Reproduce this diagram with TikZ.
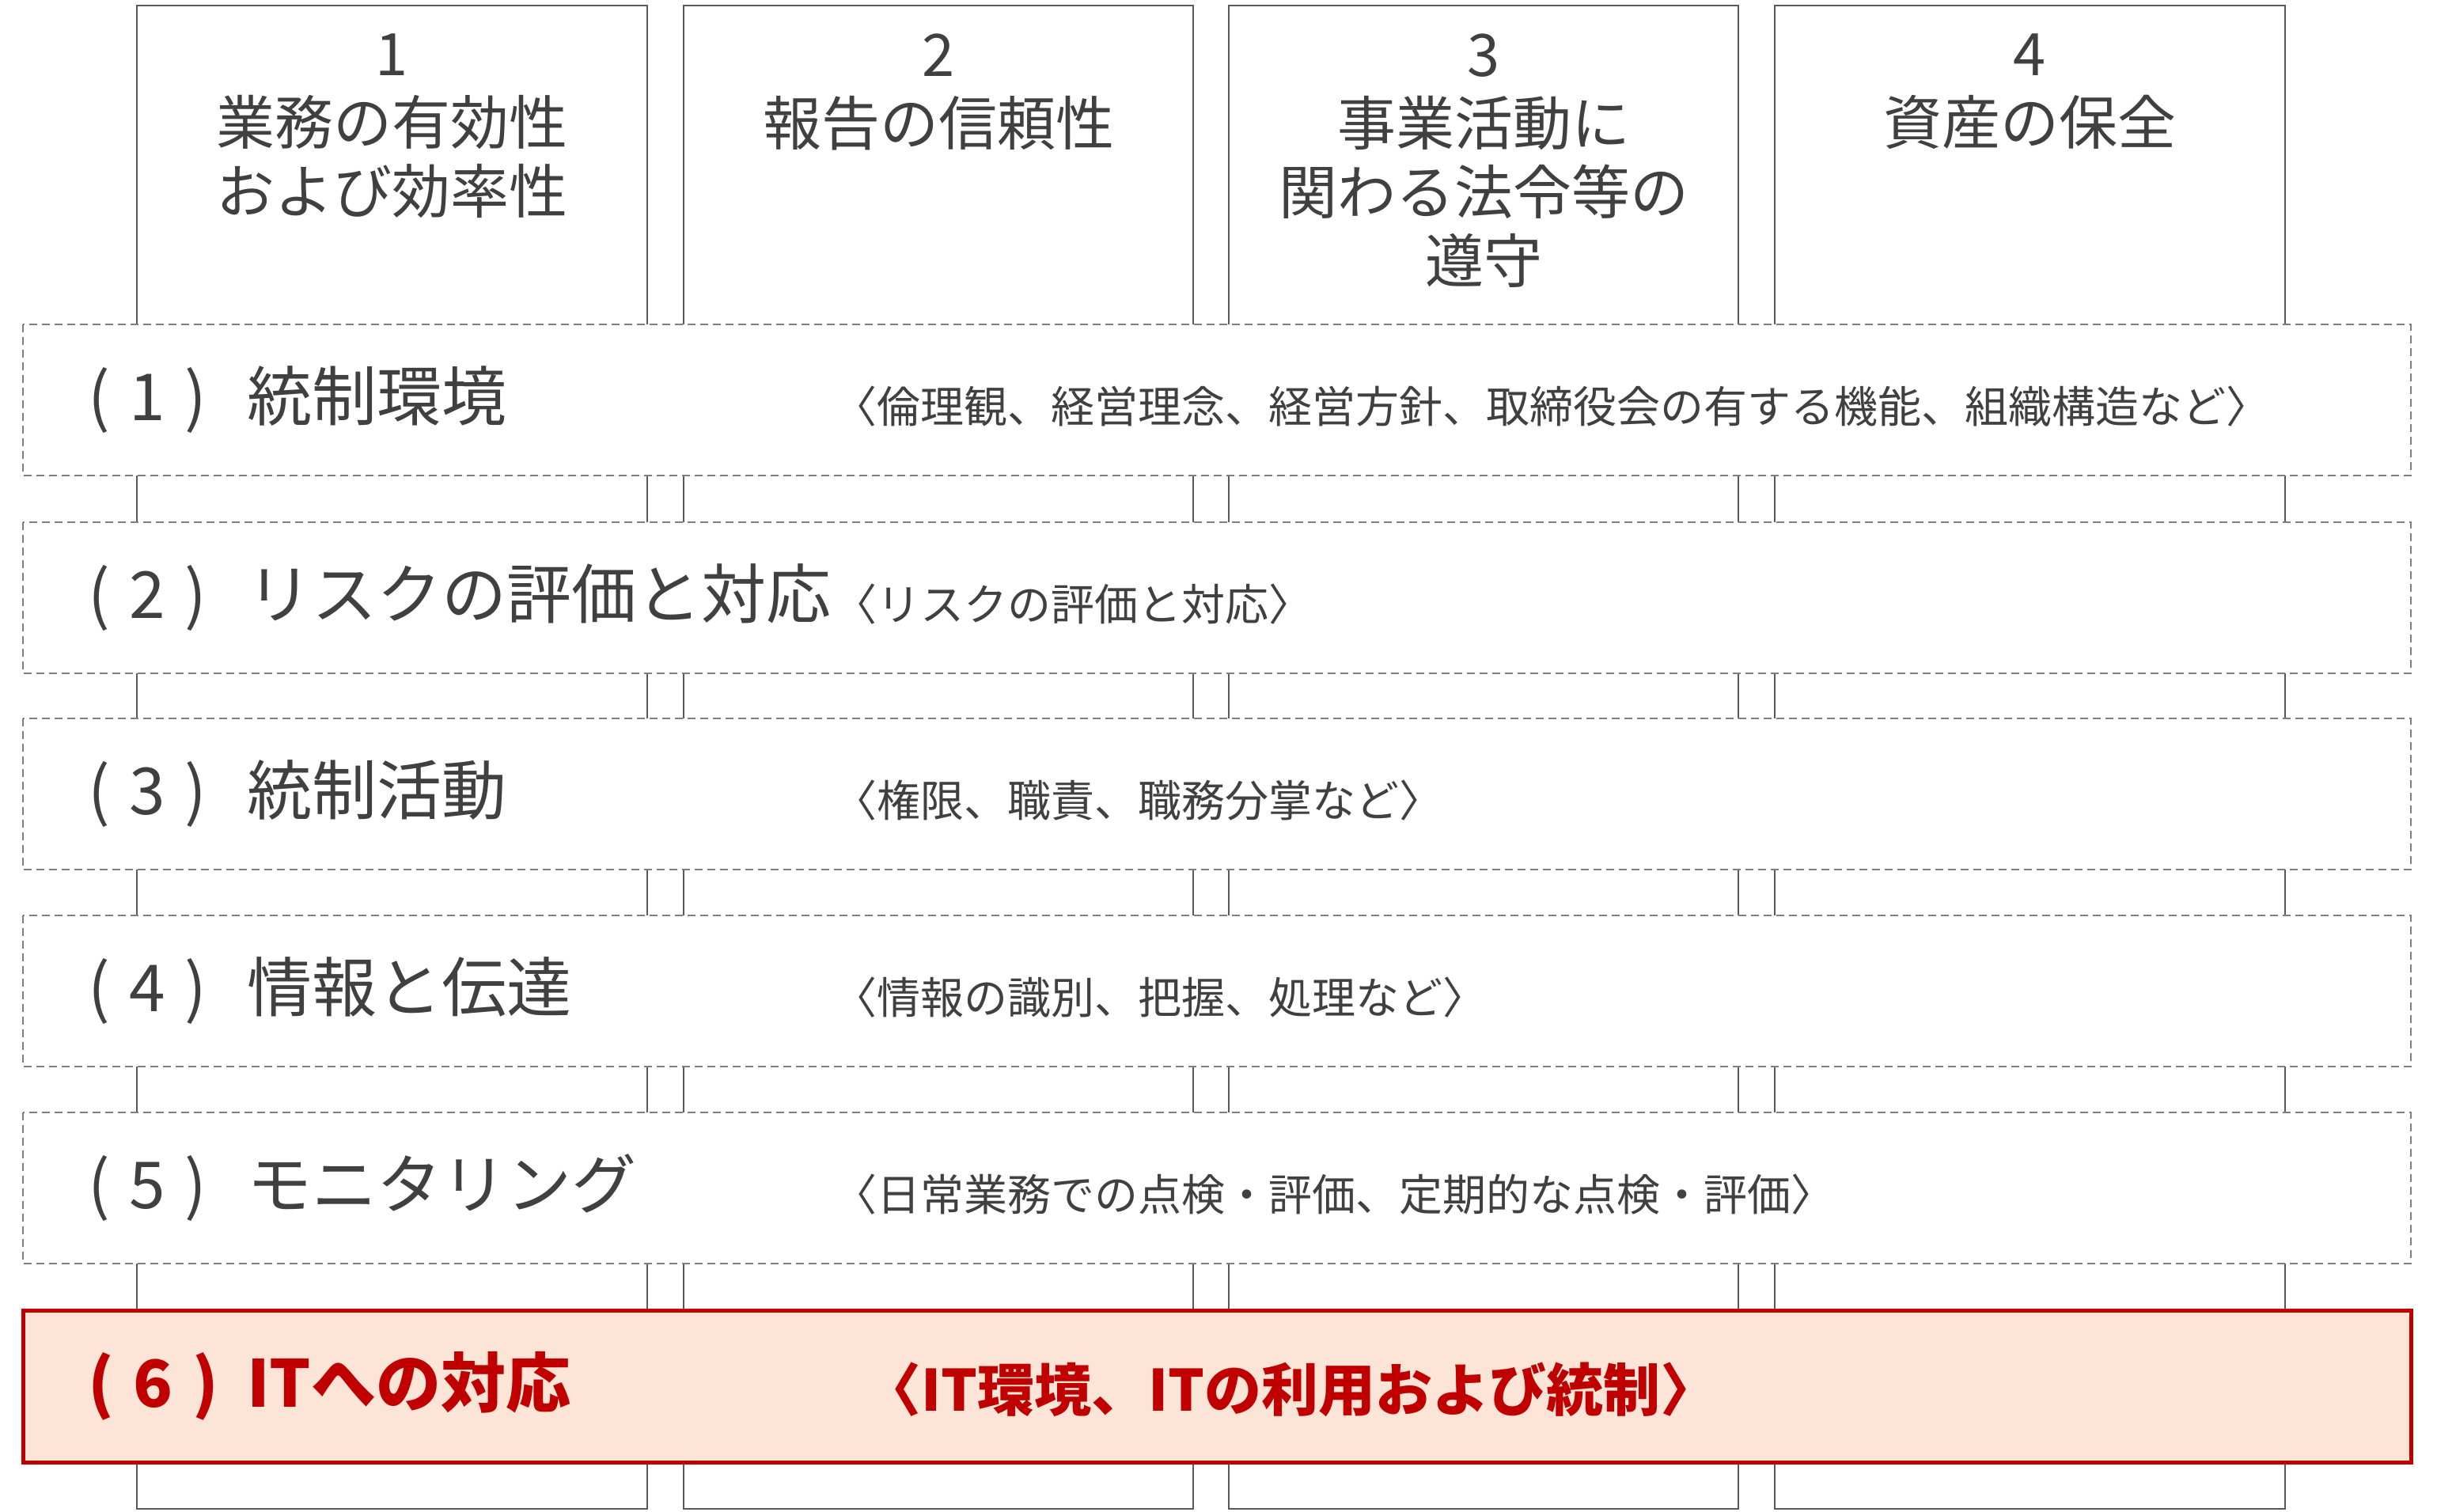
\documentclass[tikz,border=0pt]{standalone}
\usepackage{fontspec}
\setmainfont{Noto Sans CJK JP}
\usepackage{xcolor}
\definecolor{framegray}{HTML}{595959}
\definecolor{dashgray}{HTML}{7F7F7F}
\definecolor{textgray}{HTML}{404040}
\definecolor{itred}{HTML}{C00000}
\definecolor{itfill}{HTML}{FCE4D6}
\newcommand{\compno}[1]{\makebox[2.45em][l]{(\hspace{0.3em}#1\hspace{0.3em})}}

\begin{document}
\begin{tikzpicture}[x=1pt, y=-1pt,
	colbox/.style={draw=framegray, line width=0.8pt, fill=white},
	rowbox/.style={draw=dashgray, line width=0.6pt, dash pattern=on 5pt off 3pt, fill=white},
	itbox/.style={draw=itred, line width=2.5pt, fill=itfill},
	colhead/.style={anchor=north, align=center, inner sep=0pt, text=textgray, font=\fontsize{37}{43.5}\selectfont},
	rowtitle/.style={anchor=west, inner sep=0pt, text=textgray, font=\fontsize{41}{48}\selectfont},
	rowdesc/.style={anchor=west, inner sep=0pt, text=textgray, font=\fontsize{27.5}{32}\selectfont}]
	\useasboundingbox (0,0) rectangle (1540,955.5);
	% the four objectives
	\draw[colbox] (86.5,3.5) rectangle (409,953.5);
	\draw[colbox] (432,3.5) rectangle (754,953.5);
	\draw[colbox] (776.5,3.5) rectangle (1098.5,953.5);
	\draw[colbox] (1121.5,3.5) rectangle (1444,953.5);
	\node[colhead] (obj1) at (247.75,21) {1\\業務の有効性\\および効率性};
	\node[colhead] (obj2) at (593,21) {2\\報告の信頼性};
	\node[colhead] (obj3) at (937.5,21) {3\\事業活動に\\関わる法令等の\\遵守};
	\node[colhead] (obj4) at (1282.75,21) {4\\資産の保全};
	% the six components
	\draw[rowbox] (14.5,205) rectangle (1523.5,300.5);
	\node[rowtitle] (comp1) at (55.5,252.75) {\compno{1}統制環境};
	\node[rowdesc] (desc1) at (526.5,256.75) {〈倫理観、経営理念、経営方針、取締役会の有する機能、組織構造など〉};
	\draw[rowbox] (14.5,330) rectangle (1523.5,425.5);
	\node[rowtitle] (comp2) at (55.5,377.75) {\compno{2}リスクの評価と対応};
	\node[rowdesc] (desc2) at (526.5,381.75) {〈リスクの評価と対応〉};
	\draw[rowbox] (14.5,454) rectangle (1523.5,549.5);
	\node[rowtitle] (comp3) at (55.5,501.75) {\compno{3}統制活動};
	\node[rowdesc] (desc3) at (526.5,505.75) {〈権限、職責、職務分掌など〉};
	\draw[rowbox] (14.5,578.5) rectangle (1523.5,674);
	\node[rowtitle] (comp4) at (55.5,626.25) {\compno{4}情報と伝達};
	\node[rowdesc] (desc4) at (526.5,630.25) {〈情報の識別、把握、処理など〉};
	\draw[rowbox] (14.5,703) rectangle (1523.5,798.5);
	\node[rowtitle] (comp5) at (55.5,750.75) {\compno{5}モニタリング};
	\node[rowdesc] (desc5) at (526.5,754.75) {〈日常業務での点検・評価、定期的な点検・評価〉};
	\draw[itbox] (14.5,828) rectangle (1523.5,924);
	\node[rowtitle, text=itred, font=\fontsize{41}{48}\selectfont\bfseries] (comp6) at (55.5,876) {\compno{6}ITへの対応};
	\node[rowdesc, text=itred, font=\fontsize{36}{42}\selectfont\bfseries] (desc6) at (546,878) {〈IT環境、ITの利用および統制〉};
\end{tikzpicture}
\end{document}
